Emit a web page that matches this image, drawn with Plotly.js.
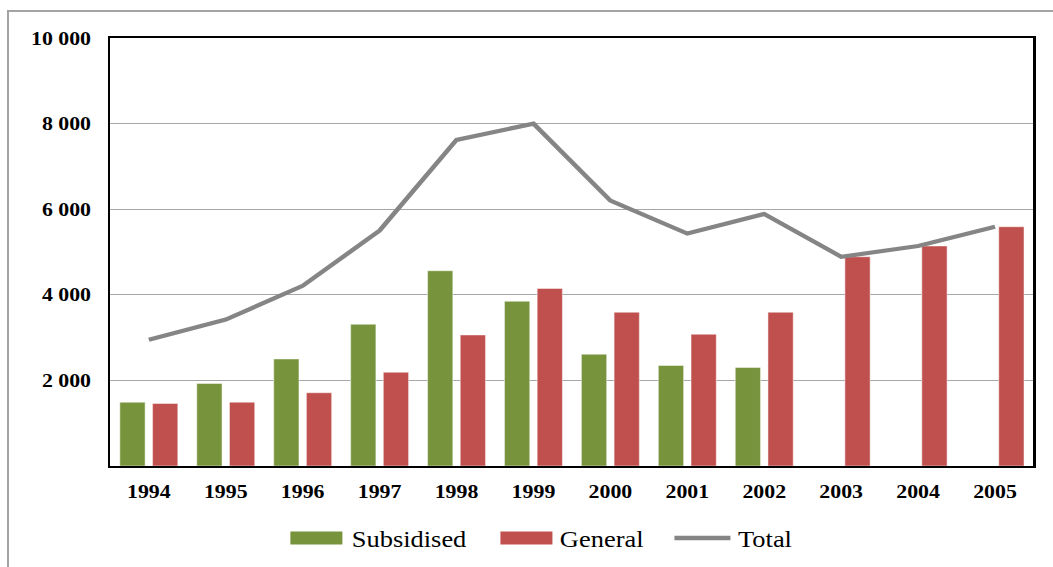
<!DOCTYPE html>
<html>
<head>
<meta charset="utf-8">
<script src="https://cdn.plot.ly/plotly-3.0.1.min.js"></script>
<style>
  html, body { margin: 0; padding: 0; background: #ffffff; overflow: hidden; }
  #frame {
    position: absolute; left: 7px; top: 10px; width: 1200px; height: 700px;
    border-left: 2px solid #a3a3a3; border-top: 2px solid #a3a3a3;
  }
  #chart {
    position: absolute; left: 0; top: 0; width: 916px; height: 567px;
    transform: scaleX(1.1496); transform-origin: 0 0;
  }
</style>
</head>
<body>
<div id="frame"></div>
<div id="chart"></div>
<script>
// Housing completions by year
const years = ['1994', '1995', '1996', '1997', '1998', '1999', '2000', '2001', '2002', '2003', '2004', '2005'];
const subsidised = [1490, 1930, 2500, 3310, 4560, 3850, 2610, 2350, 2300, null, null, null];
const general = [1460, 1490, 1710, 2190, 3060, 4150, 3590, 3080, 3590, 4890, 5140, 5590];
const total = [2950, 3420, 4210, 5500, 7620, 8000, 6200, 5430, 5890, 4890, 5140, 5590];

const seriesNames = ['Subsidised', 'General', 'Total'];
const yTickValues = [2000, 4000, 6000, 8000, 10000];
const yTickLabels = ['2 000', '4 000', '6 000', '8 000', '10 000'];

const GREEN = '#77933c';
const RED = '#c0504d';
const GREY = '#858585';

// Page is drawn narrower and stretched horizontally by CSS
const S = 1053 / 916;
const W = 916, H = 567;
const M = { l: 110 / S, r: W - 1033 / S, t: 38, b: 101 };
const plotW = W - M.l - M.r;
const plotH = H - M.t - M.b;
const px = x => (x / S - M.l) / plotW;         // screen x -> paper x
const py = y => (H - M.b - y) / plotH;         // screen y -> paper y

const SERIF = 'Liberation Serif';
const tickFont = { family: SERIF, size: 19, weight: 700, color: '#000000' };
const legendFont = { family: SERIF, size: 23, weight: 400, color: '#000000' };

const traces = [
  {
    type: 'bar', name: seriesNames[0], x: years, y: subsidised,
    marker: { color: GREEN, line: { color: 'rgba(255,255,255,0.45)', width: 1 } },
    showlegend: false, hoverinfo: 'skip'
  },
  {
    type: 'bar', name: seriesNames[1], x: years, y: general,
    marker: { color: RED, line: { color: 'rgba(255,255,255,0.45)', width: 1 } },
    showlegend: false, hoverinfo: 'skip'
  },
  {
    type: 'scatter', mode: 'lines', name: seriesNames[2], x: years, y: total,
    line: { color: GREY, width: 4.2 },
    showlegend: false, hoverinfo: 'skip'
  }
];

// Hand-built legend below the plot
const legendY = 538;
const swatches = [
  { kind: 'rect', color: GREEN, x0: 290, x1: 342, tx: 349, name: seriesNames[0] },
  { kind: 'rect', color: RED, x0: 500, x1: 552, tx: 557, name: seriesNames[1] },
  { kind: 'line', color: GREY, x0: 674, x1: 730, tx: 735, name: seriesNames[2] }
];
const shapes = swatches.map(s => s.kind === 'rect'
  ? { type: 'rect', xref: 'paper', yref: 'paper', x0: px(s.x0), x1: px(s.x1),
      y0: py(legendY - 6.5), y1: py(legendY + 6.5), fillcolor: s.color, line: { width: 0 } }
  : { type: 'line', xref: 'paper', yref: 'paper', x0: px(s.x0), x1: px(s.x1),
      y0: py(legendY), y1: py(legendY), line: { color: s.color, width: 4.5 } });
const annotations = swatches.map(s => ({
  xref: 'paper', yref: 'paper', x: px(s.tx), y: py(legendY + 1),
  xanchor: 'left', yanchor: 'middle', text: s.name, showarrow: false, font: legendFont
}));

const layout = {
  width: W, height: H,
  margin: M,
  paper_bgcolor: 'rgba(0,0,0,0)',
  plot_bgcolor: '#ffffff',
  font: { family: SERIF },
  barmode: 'group',
  bargap: 0.15,
  bargroupgap: 0.226,
  showlegend: false,
  xaxis: {
    type: 'category', showline: true, mirror: true, linecolor: '#000000', linewidth: 2,
    ticks: '', showgrid: false, tickfont: tickFont, ticklabelstandoff: 7, fixedrange: true
  },
  yaxis: {
    range: [0, 10000], tickvals: yTickValues, ticktext: yTickLabels,
    showline: true, mirror: true, linecolor: '#000000', linewidth: 2,
    ticks: '', showgrid: true, gridcolor: '#a6a6a6', gridwidth: 1, zeroline: false,
    tickfont: tickFont, ticklabelstandoff: 11, fixedrange: true
  },
  shapes: shapes,
  annotations: annotations
};

Plotly.newPlot('chart', traces, layout, { displayModeBar: false, staticPlot: true });
</script>
</body>
</html>
